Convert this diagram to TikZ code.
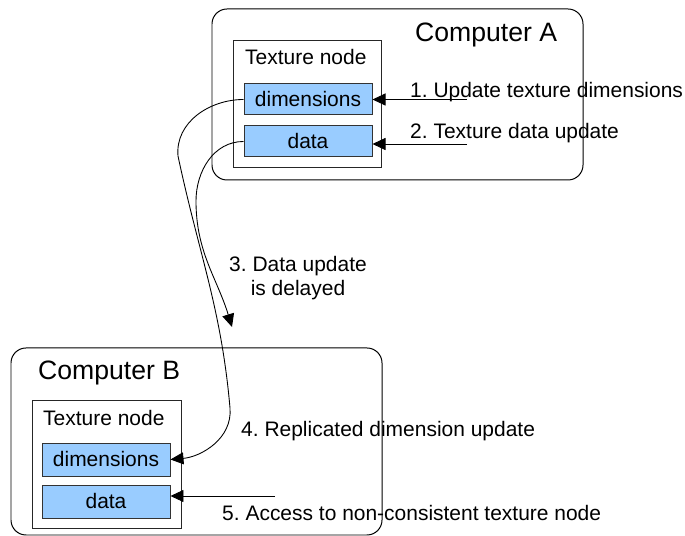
\documentclass[tikz,border=0pt]{standalone}
\usepackage{fontspec}
\setmainfont{Liberation Sans}
\usepackage{tikz}
\usetikzlibrary{arrows.meta,positioning}
\frenchspacing

\definecolor{fieldblue}{HTML}{99CCFF}
\tikzset{
  computer/.style={draw,line width=0.85pt,rounded corners=4.5mm,minimum width=111.3mm,inner sep=0pt},
  texbox/.style={draw=black!85,line width=0.85pt,minimum width=44.5mm,minimum height=38.1mm,inner sep=0pt},
  field/.style={draw=black!80,line width=0.85pt,fill=fieldblue,minimum width=38.4mm,inner sep=0pt,font=\fontsize{17.9}{20.5}\selectfont},
  txt/.style={inner sep=0pt,anchor=base west,font=\fontsize{17.9}{20.5}\selectfont},
  title/.style={inner sep=0pt,anchor=base west,font=\fontsize{22.7}{26}\selectfont},
  msg/.style={-{Triangle[length=3.9mm,width=3.6mm]},line width=0.75pt}
}

\begin{document}
\begin{tikzpicture}[x=0.3mm,y=0.3mm]
\useasboundingbox (0,0) rectangle (685,536);

% computer A
\node[computer,minimum height=51.3mm] (compA) at (397.5,441.5) {};
\node[title] (titleA) at (415,494) {Computer A};
\node[texbox] (texA) at (307.5,431.5) {};
\node[txt] (nameA) at (245,471) {Texture node};
\node[field,minimum height=9.3mm] (dimA) at (308,436.5) {dimensions};
\node[field,minimum height=9.3mm] (dataA) at (308,394.5) {data};

% computer B
\node[computer,minimum height=56.1mm] (compB) at (196.5,94.5) {};
\node[title] (titleB) at (38,156) {Computer B};
\node[texbox] (texB) at (107,71.5) {};
\node[txt] (nameB) at (43,110) {Texture node};
\node[field,minimum height=9.9mm] (dimB) at (106,76.5) {dimensions};
\node[field,minimum height=9.9mm] (dataB) at (106,34.5) {data};

% messages
\coordinate (src1) at (467,436.5);
\coordinate (src2) at (467,392);
\coordinate (src5) at (275,40);
\coordinate (bend3) at (196,335);
\coordinate (end3) at (232,209);
\coordinate (bend4a) at (178,380);
\coordinate (bend4b) at (230,128);

\draw[msg] (src1) -- (dimA.east);
\draw[msg] (src2) -- (dataA.east |- src2);
\draw[msg] (dataA.west) to[out=180,in=90] (bend3) to[out=-90,in=107] (end3);
\draw[msg] (dimA.west) to[out=180,in=95] (bend4a) to[out=-78,in=95] (bend4b) to[out=-85,in=5] (dimB.east);
\draw[msg] (src5) -- (dataB.east |- src5);

\node[txt] (lab1) at (410,438) {1. Update texture dimensions};
\node[txt] (lab2) at (410,397) {2. Texture data update};
\node[inner sep=0pt,align=center,font=\fontsize{17.9}{20.5}\selectfont] (lab3) at (298,258) {3. Data update\\is delayed};
\node[txt] (lab4) at (241,99) {4. Replicated dimension update};
\node[txt] (lab5) at (222,15) {5. Access to non-consistent texture node};

\end{tikzpicture}
\end{document}
